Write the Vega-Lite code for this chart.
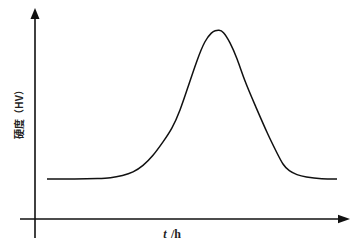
{
  "$schema": "https://vega.github.io/schema/vega-lite/v6.json",
  "width": 363,
  "height": 252,
  "padding": 0,
  "autosize": {"type": "none"},
  "background": "white",
  "config": {"view": {"stroke": null}},
  "layer": [
    {
      "data": {"values": [
        {"x": -15, "y": 0, "x2": 309, "y2": 0},
        {"x": 0, "y": -19, "x2": 0, "y2": 205}
      ]},
      "mark": {"type": "rule", "color": "#111", "strokeWidth": 1.6},
      "encoding": {
        "x": {"field": "x", "type": "quantitative", "scale": {"domain": [-35, 328], "nice": false, "zero": false}, "axis": null},
        "y": {"field": "y", "type": "quantitative", "scale": {"domain": [-33, 219], "nice": false, "zero": false}, "axis": null},
        "x2": {"field": "x2"},
        "y2": {"field": "y2"}
      }
    },
    {
      "data": {"values": [{"x": 309, "y": 0}]},
      "mark": {"type": "point", "shape": "M -1 -0.7 L 1 0 L -1 0.7 Z", "filled": true, "color": "#111", "size": 144, "opacity": 1},
      "encoding": {
        "x": {"field": "x", "type": "quantitative"},
        "y": {"field": "y", "type": "quantitative"}
      }
    },
    {
      "data": {"values": [{"x": 0, "y": 205.5}]},
      "mark": {"type": "point", "shape": "M -0.82 1 L 0 -1 L 0.82 1 Z", "filled": true, "color": "#111", "size": 121, "opacity": 1},
      "encoding": {
        "x": {"field": "x", "type": "quantitative"},
        "y": {"field": "y", "type": "quantitative"}
      }
    },
    {
      "data": {"values": [
        {"t": 12, "hv": 40}, {"t": 40, "hv": 40}, {"t": 65, "hv": 40.5}, {"t": 75, "hv": 41},
        {"t": 88, "hv": 43.5}, {"t": 98, "hv": 46.5}, {"t": 108, "hv": 53}, {"t": 118, "hv": 63},
        {"t": 128, "hv": 77}, {"t": 137, "hv": 90}, {"t": 145, "hv": 108}, {"t": 153, "hv": 132},
        {"t": 162, "hv": 159}, {"t": 170, "hv": 179}, {"t": 177, "hv": 187}, {"t": 180, "hv": 188.5},
        {"t": 184, "hv": 189}, {"t": 188, "hv": 188}, {"t": 195, "hv": 177}, {"t": 202, "hv": 161},
        {"t": 210, "hv": 137}, {"t": 220, "hv": 114}, {"t": 233, "hv": 84}, {"t": 242, "hv": 66},
        {"t": 248, "hv": 54}, {"t": 254, "hv": 48}, {"t": 262, "hv": 44}, {"t": 270, "hv": 42},
        {"t": 287, "hv": 40}, {"t": 302, "hv": 40}
      ]},
      "mark": {"type": "line", "color": "#111", "strokeWidth": 1.5, "interpolate": "basis"},
      "encoding": {
        "x": {"field": "t", "type": "quantitative"},
        "y": {"field": "hv", "type": "quantitative"}
      }
    },
    {
      "data": {"values": [{"x": -15, "y": 107, "label": "硬度（HV）"}]},
      "mark": {"type": "text", "angle": 270, "font": "Noto Sans CJK SC", "fontSize": 10, "fontWeight": "bold", "color": "#222", "align": "center", "baseline": "middle"},
      "encoding": {
        "x": {"field": "x", "type": "quantitative"},
        "y": {"field": "y", "type": "quantitative"},
        "text": {"field": "label"}
      }
    },
    {
      "data": {"values": [{"x": 130, "y": -15, "label": "t"}]},
      "mark": {"type": "text", "font": "Liberation Serif", "fontSize": 12, "fontStyle": "italic", "fontWeight": "bold", "color": "#222", "align": "center", "baseline": "middle"},
      "encoding": {
        "x": {"field": "x", "type": "quantitative"},
        "y": {"field": "y", "type": "quantitative"},
        "text": {"field": "label"}
      }
    },
    {
      "data": {"values": [{"x": 136, "y": -15, "label": "/h"}]},
      "mark": {"type": "text", "font": "Liberation Serif", "fontSize": 12, "fontWeight": "bold", "color": "#222", "align": "left", "baseline": "middle"},
      "encoding": {
        "x": {"field": "x", "type": "quantitative"},
        "y": {"field": "y", "type": "quantitative"},
        "text": {"field": "label"}
      }
    }
  ]
}
